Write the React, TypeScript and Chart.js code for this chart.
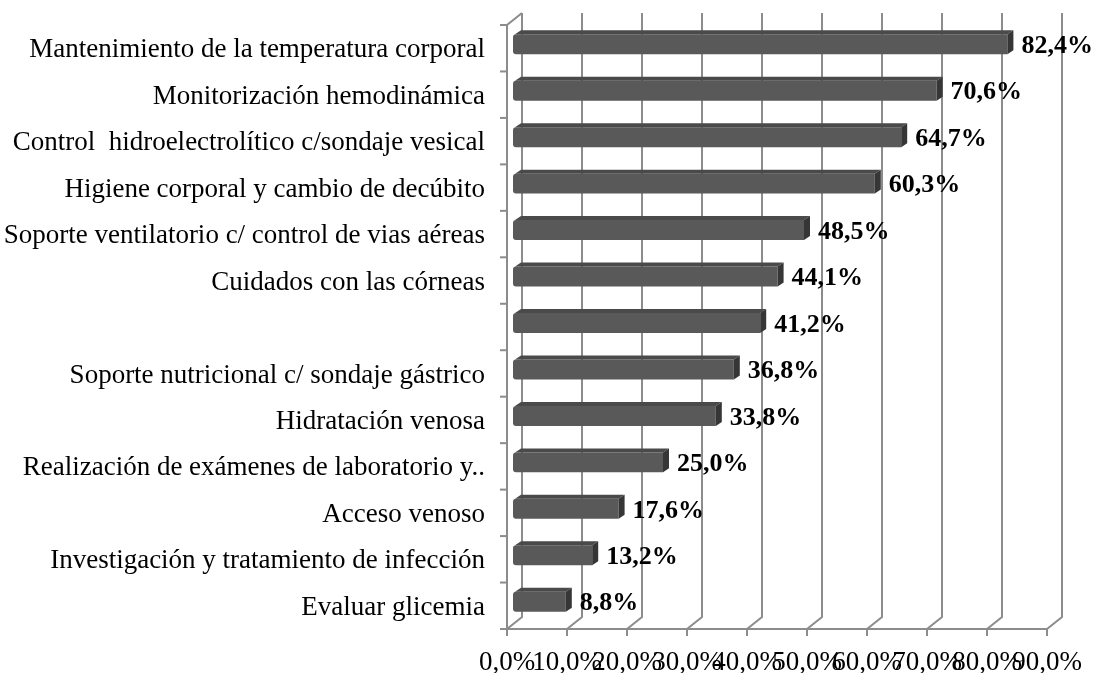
import React, { useEffect, useRef } from "react";
import { Chart, registerables } from "chart.js";

Chart.register(...registerables);

const categories: string[] = [
  "Mantenimiento de la temperatura corporal",
  "Monitorización hemodinámica",
  "Control  hidroelectrolítico c/sondaje vesical",
  "Higiene corporal y cambio de decúbito",
  "Soporte ventilatorio c/ control de vias aéreas",
  "Cuidados con las córneas",
  "",
  "Soporte nutricional c/ sondaje gástrico",
  "Hidratación venosa",
  "Realización de exámenes de laboratorio y..",
  "Acceso venoso",
  "Investigación y tratamiento de infección",
  "Evaluar glicemia",
];

const values: number[] = [82.4, 70.6, 64.7, 60.3, 48.5, 44.1, 41.2, 36.8, 33.8, 25.0, 17.6, 13.2, 8.8];

const axisMin = 0;
const axisMax = 90;
const axisStep = 10;

const FONT = "'Liberation Serif', 'Times New Roman', serif";
const fmt = (v: number) => v.toFixed(1).replace(".", ",") + "%";

const DX = 6; // bar plane -> front axis offset
const DY = 4;
const WX = 15; // depth of walls
const WY = 12;
const BD = 6; // bar depth
const BE = 4;

const box3d = {
  id: "box3d",
  beforeDatasetsDraw(chart: any) {
    const ctx = chart.ctx;
    const xs = chart.scales.x;
    const ys = chart.scales.y;
    const fy = ys.bottom + DY;
    const topY = ys.top + DY - WY;
    ctx.save();
    ctx.strokeStyle = "#8c8c8c";
    ctx.lineWidth = 2;
    ctx.lineCap = "butt";
    ctx.lineJoin = "miter";
    for (let v = axisMin; v <= axisMax; v += axisStep) {
      const fx = xs.getPixelForValue(v) - DX;
      ctx.beginPath();
      ctx.moveTo(fx, fy);
      ctx.lineTo(fx + WX, fy - WY);
      ctx.lineTo(fx + WX, topY);
      ctx.stroke();
      ctx.beginPath();
      ctx.moveTo(fx, fy);
      ctx.lineTo(fx, fy + 7);
      ctx.stroke();
    }
    const fx0 = xs.getPixelForValue(axisMin) - DX;
    const fx1 = xs.getPixelForValue(axisMax) - DX;
    ctx.beginPath();
    ctx.moveTo(fx0, fy);
    ctx.lineTo(fx1, fy);
    ctx.stroke();
    const ftop = ys.top + DY;
    ctx.beginPath();
    ctx.moveTo(fx0, fy);
    ctx.lineTo(fx0, ftop);
    ctx.lineTo(fx0 + WX, ftop - WY);
    ctx.stroke();
    const n = categories.length;
    const band = (ys.bottom - ys.top) / n;
    for (let k = 0; k <= n; k++) {
      const y = ftop + k * band;
      ctx.beginPath();
      ctx.moveTo(fx0 - 7, y);
      ctx.lineTo(fx0, y);
      ctx.stroke();
    }
    ctx.restore();
  },
  afterDatasetsDraw(chart: any) {
    const ctx = chart.ctx;
    const meta = chart.getDatasetMeta(0);
    ctx.save();
    meta.data.forEach((bar: any, i: number) => {
      const left = bar.base;
      const right = bar.x;
      const top = bar.y - bar.height / 2;
      const bottom = bar.y + bar.height / 2;
      ctx.fillStyle = "#4a4a4a";
      ctx.beginPath();
      ctx.moveTo(left + 2, top);
      ctx.lineTo(left + 2 + BD, top - BE);
      ctx.lineTo(right + BD, top - BE);
      ctx.lineTo(right, top);
      ctx.closePath();
      ctx.fill();
      ctx.fillStyle = "#363636";
      ctx.beginPath();
      ctx.moveTo(right, top);
      ctx.lineTo(right + BD, top - BE);
      ctx.lineTo(right + BD, bottom - BE);
      ctx.lineTo(right, bottom);
      ctx.closePath();
      ctx.fill();
      ctx.fillStyle = "#000000";
      ctx.font = "bold 26px " + FONT;
      ctx.textAlign = "left";
      ctx.textBaseline = "middle";
      ctx.fillText(fmt(values[i]), right + 14, bar.y + 2);
    });
    ctx.restore();
  },
};

const zeroPad = (s: any) => {
  s.paddingTop = 0;
  s.paddingBottom = 0;
  s.paddingLeft = 0;
  s.paddingRight = 0;
};

export default function App() {
  const ref = useRef<HTMLCanvasElement | null>(null);
  useEffect(() => {
    if (!ref.current) return;
    const chart = new Chart(ref.current, {
      type: "bar",
      data: {
        labels: categories,
        datasets: [
          {
            data: values,
            backgroundColor: "#595959",
            borderWidth: 0,
            borderSkipped: false,
            borderRadius: { topLeft: 3, bottomLeft: 3, topRight: 0, bottomRight: 0 },
            barPercentage: 0.43,
            categoryPercentage: 1,
          },
        ],
      },
      options: {
        indexAxis: "y",
        animation: false,
        responsive: true,
        maintainAspectRatio: false,
        layout: { padding: { left: 0, top: 21, right: 44, bottom: 0 } },
        plugins: { legend: { display: false }, tooltip: { enabled: false } },
        scales: {
          x: {
            type: "linear",
            min: axisMin,
            max: axisMax,
            afterFit: (s: any) => {
              s.height = 48;
              zeroPad(s);
            },
            grid: { display: false },
            border: { display: false },
            ticks: {
              stepSize: axisStep,
              autoSkip: false,
              maxRotation: 0,
              minRotation: 0,
              labelOffset: -DX,
              padding: 14,
              color: "#000000",
              font: { family: FONT, size: 27 },
              callback: (v: any) => fmt(Number(v)),
            },
          },
          y: {
            type: "category",
            afterFit: (s: any) => {
              s.width = 513;
              zeroPad(s);
            },
            grid: { display: false },
            border: { display: false },
            ticks: {
              autoSkip: false,
              padding: 20,
              labelOffset: 6,
              color: "#000000",
              font: { family: FONT, size: 27 },
            },
          },
        },
      },
      plugins: [box3d],
    });
    return () => chart.destroy();
  }, []);
  return (
    <div style={{ position: "absolute", left: 0, top: 0, width: 1097, height: 673, background: "#ffffff" }}>
      <canvas ref={ref} />
    </div>
  );
}
